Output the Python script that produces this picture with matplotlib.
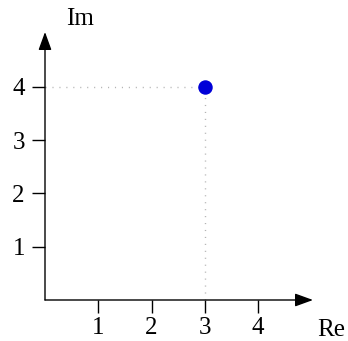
import matplotlib
matplotlib.use("Agg")
import matplotlib.pyplot as plt

# complex number z = 3 + 4i
re_vals = [3]
im_vals = [4]
x_ticks = [1, 2, 3, 4]
y_ticks = [1, 2, 3, 4]
x_label = "Re"
y_label = "Im"
axis_end = 5.03

plt.rcParams['font.family'] = ['Liberation Serif', 'DejaVu Serif']

fig = plt.figure(figsize=(3.48, 3.41), dpi=100)
ax = fig.add_axes([45 / 348, 41 / 341, 268 / 348, 268 / 341])
ax.set_xlim(0, axis_end)
ax.set_ylim(0, axis_end)

for s in ax.spines.values():
    s.set_visible(False)

# axes with arrow heads
arrow = dict(arrowstyle='-|>,head_length=1.1,head_width=0.4', color='black',
             lw=1.0, mutation_scale=10, shrinkA=0, shrinkB=0)
ax.annotate('', xy=(axis_end, 0), xytext=(0, 0), arrowprops=arrow,
            annotation_clip=False)
ax.annotate('', xy=(0, axis_end), xytext=(0, 0), arrowprops=arrow,
            annotation_clip=False)

# dotted guides to the axes
for re, im in zip(re_vals, im_vals):
    ax.plot([0, re], [im, im], color='#b4b4b4', lw=1.0, ls=(0, (0.8, 4.2)),
            clip_on=False)
    ax.plot([re, re], [0, im], color='#b4b4b4', lw=1.0, ls=(0, (0.8, 4.2)),
            clip_on=False)

ax.plot(re_vals, im_vals, 'o', color='#0000d8', markersize=9.4, clip_on=False,
        zorder=5)

ax.set_xticks(x_ticks)
ax.set_yticks(y_ticks)
ax.set_xticklabels([str(t) for t in x_ticks])
ax.set_yticklabels([str(t) for t in y_ticks])
ax.tick_params(axis='x', direction='out', length=9.5, width=1.0, pad=2.5,
               labelsize=18, top=False)
ax.tick_params(axis='y', direction='out', length=9.5, width=1.0, pad=5,
               labelsize=18, right=False)

ax.text(5.37, -0.56, x_label, ha='center', va='center', fontsize=18)
ax.text(0.66, 5.28, y_label, ha='center', va='center', fontsize=18)

fig.savefig('out.png', dpi=100)
